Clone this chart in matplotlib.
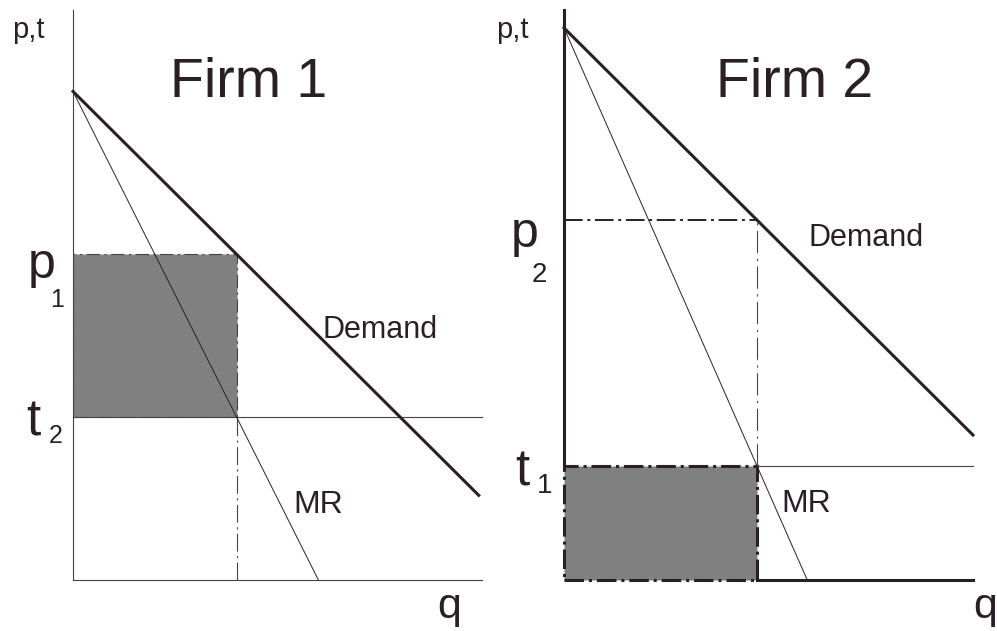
import matplotlib
matplotlib.use("Agg")
import matplotlib.pyplot as plt
from matplotlib.patches import Rectangle

plt.rcParams['font.family'] = ['Liberation Sans', 'DejaVu Sans']

# Diagram values (same units on both panels)
firms = ["Firm 1", "Firm 2"]
demand_icpt = [3.0, 3.39]      # price at q = 0
demand_slope = [1.0, 1.0]
mr_slope = [2.0, 2.28]
demand_end = [2.48, 2.5]       # q where the demand line stops
quantity = [1.0, 1.18]         # chosen output
price = [2.0, 2.21]            # p1, p2
tax = [1.0, 0.70]              # t2 (firm 1), t1 (firm 2)
price_lbl = ["1", "2"]
tax_lbl = ["2", "1"]
q_max, p_max = 2.5, 3.5

W, H = 997, 631
ink = '#2b1f26'
thin = '#4a4046'
shade = '#808080'

fig = plt.figure(figsize=(W / 100, H / 100), dpi=100)


def px(x, y):
    return x / W, 1 - y / H


def add_panel(left):
    ax = fig.add_axes([left / W, (H - 580) / H, 409 / W, 570 / H])
    ax.set_xlim(0, q_max)
    ax.set_ylim(0, p_max)
    ax.axis('off')
    return ax


# ---- Firm 1 ----
ax1 = add_panel(73)
i = 0
a, b, m, qe = demand_icpt[i], demand_slope[i], mr_slope[i], demand_end[i]
q, p, t = quantity[i], price[i], tax[i]
ax1.add_patch(Rectangle((0, t), q, p - t, facecolor=shade, edgecolor=thin,
                        lw=0.8, ls=(0, (12, 4, 2, 4)), zorder=1))
ax1.plot([0, 0], [0, p_max], color=thin, lw=0.8, clip_on=False)
ax1.plot([0, q_max], [0, 0], color=thin, lw=0.8, clip_on=False)
ax1.plot([0, q_max], [t, t], color=thin, lw=0.8, clip_on=False)
ax1.plot([q, q], [0, t], color=thin, lw=0.8, ls=(0, (16, 4, 2, 4)))
ax1.plot([0, qe], [a, a - b * qe], color=ink, lw=2.2, clip_on=False)
ax1.plot([0, a / m], [a, 0], color=ink, lw=0.7)

# ---- Firm 2 ----
ax2 = add_panel(564)
i = 1
a, b, m, qe = demand_icpt[i], demand_slope[i], mr_slope[i], demand_end[i]
q, p, t = quantity[i], price[i], tax[i]
ax2.add_patch(Rectangle((0, 0), q, t, facecolor=shade, edgecolor=ink,
                        lw=2.2, ls='-.', zorder=1, clip_on=False))
ax2.plot([0, 0], [t, p_max], color=ink, lw=2.2, clip_on=False)
ax2.plot([q, q_max], [0, 0], color=ink, lw=2.2, clip_on=False)
ax2.plot([q, q_max], [t, t], color=thin, lw=0.8, clip_on=False)
ax2.plot([0, q], [p, p], color=ink, lw=1.4, ls=(0, (9.6, 2.4, 1.5, 2.4)))
ax2.plot([q, q], [t, p], color=thin, lw=0.8, ls=(0, (20, 5, 2, 5)))
ax2.plot([0, qe], [a, a - b * qe], color=ink, lw=2.2, clip_on=False)
ax2.plot([0, a / m], [a, 0], color=ink, lw=0.7)

# ---- labels ----
txt = dict(color=ink, va='baseline', ha='left')
fig.text(*px(170, 97), firms[0], fontsize=40, **txt)
fig.text(*px(716, 97), firms[1], fontsize=40, **txt)
fig.text(*px(12, 38), "p,t", fontsize=21, **txt)
fig.text(*px(496, 38), "p,t", fontsize=21, **txt)

fig.text(*px(28, 278), "p", fontsize=36, **txt)
fig.text(*px(50, 307), price_lbl[0], fontsize=18, **txt)
fig.text(*px(26, 435), "t", fontsize=37, **txt)
fig.text(*px(49, 443), tax_lbl[0], fontsize=18, **txt)

fig.text(*px(511, 247), "p", fontsize=36, **txt)
fig.text(*px(532, 282), price_lbl[1], fontsize=20, **txt)
fig.text(*px(515, 486), "t", fontsize=37, **txt)
fig.text(*px(537, 493), tax_lbl[1], fontsize=20, **txt)

fig.text(*px(322, 338), "Demand", fontsize=22, **txt)
fig.text(*px(808, 246), "Demand", fontsize=22, **txt)
fig.text(*px(293, 513), "MR", fontsize=23, **txt)
fig.text(*px(781, 512), "MR", fontsize=23, **txt)
fig.text(*px(437, 618), "q", fontsize=31, **txt)
fig.text(*px(973, 618), "q", fontsize=31, **txt)

fig.savefig("out.png", dpi=100)
